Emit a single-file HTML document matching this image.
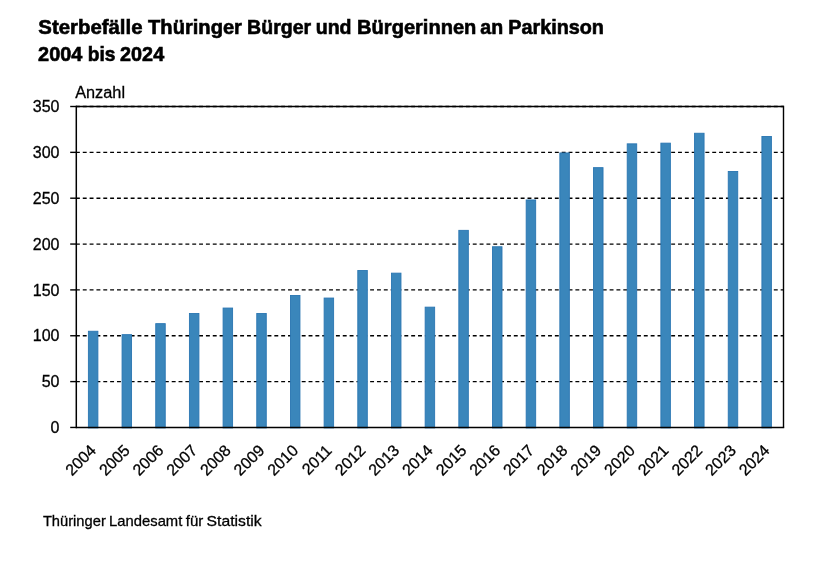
<!DOCTYPE html>
<html><head><meta charset="utf-8"><style>
html,body{margin:0;padding:0;background:#fff;width:834px;height:565px;overflow:hidden}
svg{position:absolute;left:0;top:0;will-change:transform}
.t{font-family:"Liberation Sans",sans-serif;font-size:16px;fill:#000;stroke:#000;stroke-width:0.3px}
.ft{font-family:"Liberation Sans",sans-serif;font-size:15px;fill:#000;stroke:#000;stroke-width:0.3px}
.title{font-family:"Liberation Sans",sans-serif;font-weight:bold;font-size:19.9px;fill:#000;stroke:#000;stroke-width:0.6px}
</style></head><body>
<svg width="834" height="565" viewBox="0 0 834 565">
<text x="38.3" y="34.3" textLength="104.21" lengthAdjust="spacingAndGlyphs" class="title">Sterbefälle</text>
<text x="148.1" y="34.3" textLength="93.83" lengthAdjust="spacingAndGlyphs" class="title">Thüringer</text>
<text x="247.12" y="34.3" textLength="64.0" lengthAdjust="spacingAndGlyphs" class="title">Bürger</text>
<text x="315.72" y="34.3" textLength="35.83" lengthAdjust="spacingAndGlyphs" class="title">und</text>
<text x="357.09" y="34.3" textLength="119.27" lengthAdjust="spacingAndGlyphs" class="title">Bürgerinnen</text>
<text x="480.3" y="34.3" textLength="22.8" lengthAdjust="spacingAndGlyphs" class="title">an</text>
<text x="508.31" y="34.3" textLength="95.66" lengthAdjust="spacingAndGlyphs" class="title">Parkinson</text>
<text x="38.1" y="61.3" textLength="44.25" lengthAdjust="spacingAndGlyphs" class="title">2004</text>
<text x="87.74" y="61.3" textLength="27.69" lengthAdjust="spacingAndGlyphs" class="title">bis</text>
<text x="120.1" y="61.3" textLength="44.05" lengthAdjust="spacingAndGlyphs" class="title">2024</text>
<text x="42.9" y="526" textLength="62.9" lengthAdjust="spacingAndGlyphs" class="ft">Thüringer</text>
<text x="109.11" y="526" textLength="73.2" lengthAdjust="spacingAndGlyphs" class="ft">Landesamt</text>
<text x="185.8" y="526" textLength="17.52" lengthAdjust="spacingAndGlyphs" class="ft">für</text>
<text x="206.55" y="526" textLength="55.09" lengthAdjust="spacingAndGlyphs" class="ft">Statistik</text>
<text x="75.2" y="97.8" textLength="49.84" lengthAdjust="spacingAndGlyphs" class="t">Anzahl</text>
<line x1="75.93" y1="381.60" x2="783.50" y2="381.60" stroke="#000" stroke-width="1.35" stroke-dasharray="3.91 2.932"/>
<line x1="75.93" y1="335.75" x2="783.50" y2="335.75" stroke="#000" stroke-width="1.35" stroke-dasharray="3.91 2.932"/>
<line x1="75.93" y1="289.90" x2="783.50" y2="289.90" stroke="#000" stroke-width="1.35" stroke-dasharray="3.91 2.932"/>
<line x1="75.93" y1="244.05" x2="783.50" y2="244.05" stroke="#000" stroke-width="1.35" stroke-dasharray="3.91 2.932"/>
<line x1="75.93" y1="198.20" x2="783.50" y2="198.20" stroke="#000" stroke-width="1.35" stroke-dasharray="3.91 2.932"/>
<line x1="75.93" y1="152.35" x2="783.50" y2="152.35" stroke="#000" stroke-width="1.35" stroke-dasharray="3.91 2.932"/>
<line x1="75.93" y1="106.50" x2="783.50" y2="106.50" stroke="#000" stroke-width="1.35" stroke-dasharray="3.91 2.932"/>
<rect x="88.39" y="331.25" width="9.50" height="96.65" fill="#3a86bb" stroke="#2a76b2" stroke-width="0.9"/>
<rect x="122.06" y="334.65" width="9.50" height="93.25" fill="#3a86bb" stroke="#2a76b2" stroke-width="0.9"/>
<rect x="155.74" y="323.65" width="9.50" height="104.25" fill="#3a86bb" stroke="#2a76b2" stroke-width="0.9"/>
<rect x="189.42" y="313.55" width="9.50" height="114.35" fill="#3a86bb" stroke="#2a76b2" stroke-width="0.9"/>
<rect x="223.09" y="308.05" width="9.50" height="119.85" fill="#3a86bb" stroke="#2a76b2" stroke-width="0.9"/>
<rect x="256.77" y="313.55" width="9.50" height="114.35" fill="#3a86bb" stroke="#2a76b2" stroke-width="0.9"/>
<rect x="290.45" y="295.45" width="9.50" height="132.45" fill="#3a86bb" stroke="#2a76b2" stroke-width="0.9"/>
<rect x="324.12" y="298.05" width="9.50" height="129.85" fill="#3a86bb" stroke="#2a76b2" stroke-width="0.9"/>
<rect x="357.80" y="270.55" width="9.50" height="157.35" fill="#3a86bb" stroke="#2a76b2" stroke-width="0.9"/>
<rect x="391.47" y="273.15" width="9.50" height="154.75" fill="#3a86bb" stroke="#2a76b2" stroke-width="0.9"/>
<rect x="425.15" y="307.15" width="9.50" height="120.75" fill="#3a86bb" stroke="#2a76b2" stroke-width="0.9"/>
<rect x="458.83" y="230.35" width="9.50" height="197.55" fill="#3a86bb" stroke="#2a76b2" stroke-width="0.9"/>
<rect x="492.50" y="246.75" width="9.50" height="181.15" fill="#3a86bb" stroke="#2a76b2" stroke-width="0.9"/>
<rect x="526.18" y="199.95" width="9.50" height="227.95" fill="#3a86bb" stroke="#2a76b2" stroke-width="0.9"/>
<rect x="559.85" y="152.95" width="9.50" height="274.95" fill="#3a86bb" stroke="#2a76b2" stroke-width="0.9"/>
<rect x="593.53" y="167.65" width="9.50" height="260.25" fill="#3a86bb" stroke="#2a76b2" stroke-width="0.9"/>
<rect x="627.21" y="143.85" width="9.50" height="284.05" fill="#3a86bb" stroke="#2a76b2" stroke-width="0.9"/>
<rect x="660.88" y="143.15" width="9.50" height="284.75" fill="#3a86bb" stroke="#2a76b2" stroke-width="0.9"/>
<rect x="694.56" y="133.25" width="9.50" height="294.65" fill="#3a86bb" stroke="#2a76b2" stroke-width="0.9"/>
<rect x="728.24" y="171.45" width="9.50" height="256.45" fill="#3a86bb" stroke="#2a76b2" stroke-width="0.9"/>
<rect x="761.91" y="136.45" width="9.50" height="291.45" fill="#3a86bb" stroke="#2a76b2" stroke-width="0.9"/>
<line x1="76.30" y1="106.50" x2="783.50" y2="106.50" stroke="#000" stroke-width="1.4"/>
<line x1="783.50" y1="105.80" x2="783.50" y2="427.45" stroke="#000" stroke-width="1.4"/>
<line x1="76.30" y1="105.80" x2="76.30" y2="428.15" stroke="#000" stroke-width="1.5"/>
<line x1="76.30" y1="427.45" x2="784.20" y2="427.45" stroke="#000" stroke-width="1.5"/>
<line x1="70.2" y1="427.45" x2="76.30" y2="427.45" stroke="#000" stroke-width="1.4"/>
<text x="59.5" y="433.15" text-anchor="end" class="t">0</text>
<line x1="70.2" y1="381.60" x2="76.30" y2="381.60" stroke="#000" stroke-width="1.4"/>
<text x="59.5" y="387.30" text-anchor="end" class="t">50</text>
<line x1="70.2" y1="335.75" x2="76.30" y2="335.75" stroke="#000" stroke-width="1.4"/>
<text x="59.5" y="341.45" text-anchor="end" class="t">100</text>
<line x1="70.2" y1="289.90" x2="76.30" y2="289.90" stroke="#000" stroke-width="1.4"/>
<text x="59.5" y="295.60" text-anchor="end" class="t">150</text>
<line x1="70.2" y1="244.05" x2="76.30" y2="244.05" stroke="#000" stroke-width="1.4"/>
<text x="59.5" y="249.75" text-anchor="end" class="t">200</text>
<line x1="70.2" y1="198.20" x2="76.30" y2="198.20" stroke="#000" stroke-width="1.4"/>
<text x="59.5" y="203.90" text-anchor="end" class="t">250</text>
<line x1="70.2" y1="152.35" x2="76.30" y2="152.35" stroke="#000" stroke-width="1.4"/>
<text x="59.5" y="158.05" text-anchor="end" class="t">300</text>
<line x1="70.2" y1="106.50" x2="76.30" y2="106.50" stroke="#000" stroke-width="1.4"/>
<text x="59.5" y="112.20" text-anchor="end" class="t">350</text>
<text transform="translate(97.14,451.45) rotate(-45)" text-anchor="end" class="t">2004</text>
<text transform="translate(130.81,451.45) rotate(-45)" text-anchor="end" class="t">2005</text>
<text transform="translate(164.49,451.45) rotate(-45)" text-anchor="end" class="t">2006</text>
<text transform="translate(198.17,451.45) rotate(-45)" text-anchor="end" class="t">2007</text>
<text transform="translate(231.84,451.45) rotate(-45)" text-anchor="end" class="t">2008</text>
<text transform="translate(265.52,451.45) rotate(-45)" text-anchor="end" class="t">2009</text>
<text transform="translate(299.20,451.45) rotate(-45)" text-anchor="end" class="t">2010</text>
<text transform="translate(332.87,451.45) rotate(-45)" text-anchor="end" class="t">2011</text>
<text transform="translate(366.55,451.45) rotate(-45)" text-anchor="end" class="t">2012</text>
<text transform="translate(400.22,451.45) rotate(-45)" text-anchor="end" class="t">2013</text>
<text transform="translate(433.90,451.45) rotate(-45)" text-anchor="end" class="t">2014</text>
<text transform="translate(467.58,451.45) rotate(-45)" text-anchor="end" class="t">2015</text>
<text transform="translate(501.25,451.45) rotate(-45)" text-anchor="end" class="t">2016</text>
<text transform="translate(534.93,451.45) rotate(-45)" text-anchor="end" class="t">2017</text>
<text transform="translate(568.60,451.45) rotate(-45)" text-anchor="end" class="t">2018</text>
<text transform="translate(602.28,451.45) rotate(-45)" text-anchor="end" class="t">2019</text>
<text transform="translate(635.96,451.45) rotate(-45)" text-anchor="end" class="t">2020</text>
<text transform="translate(669.63,451.45) rotate(-45)" text-anchor="end" class="t">2021</text>
<text transform="translate(703.31,451.45) rotate(-45)" text-anchor="end" class="t">2022</text>
<text transform="translate(736.99,451.45) rotate(-45)" text-anchor="end" class="t">2023</text>
<text transform="translate(770.66,451.45) rotate(-45)" text-anchor="end" class="t">2024</text>
</svg>
</body></html>
